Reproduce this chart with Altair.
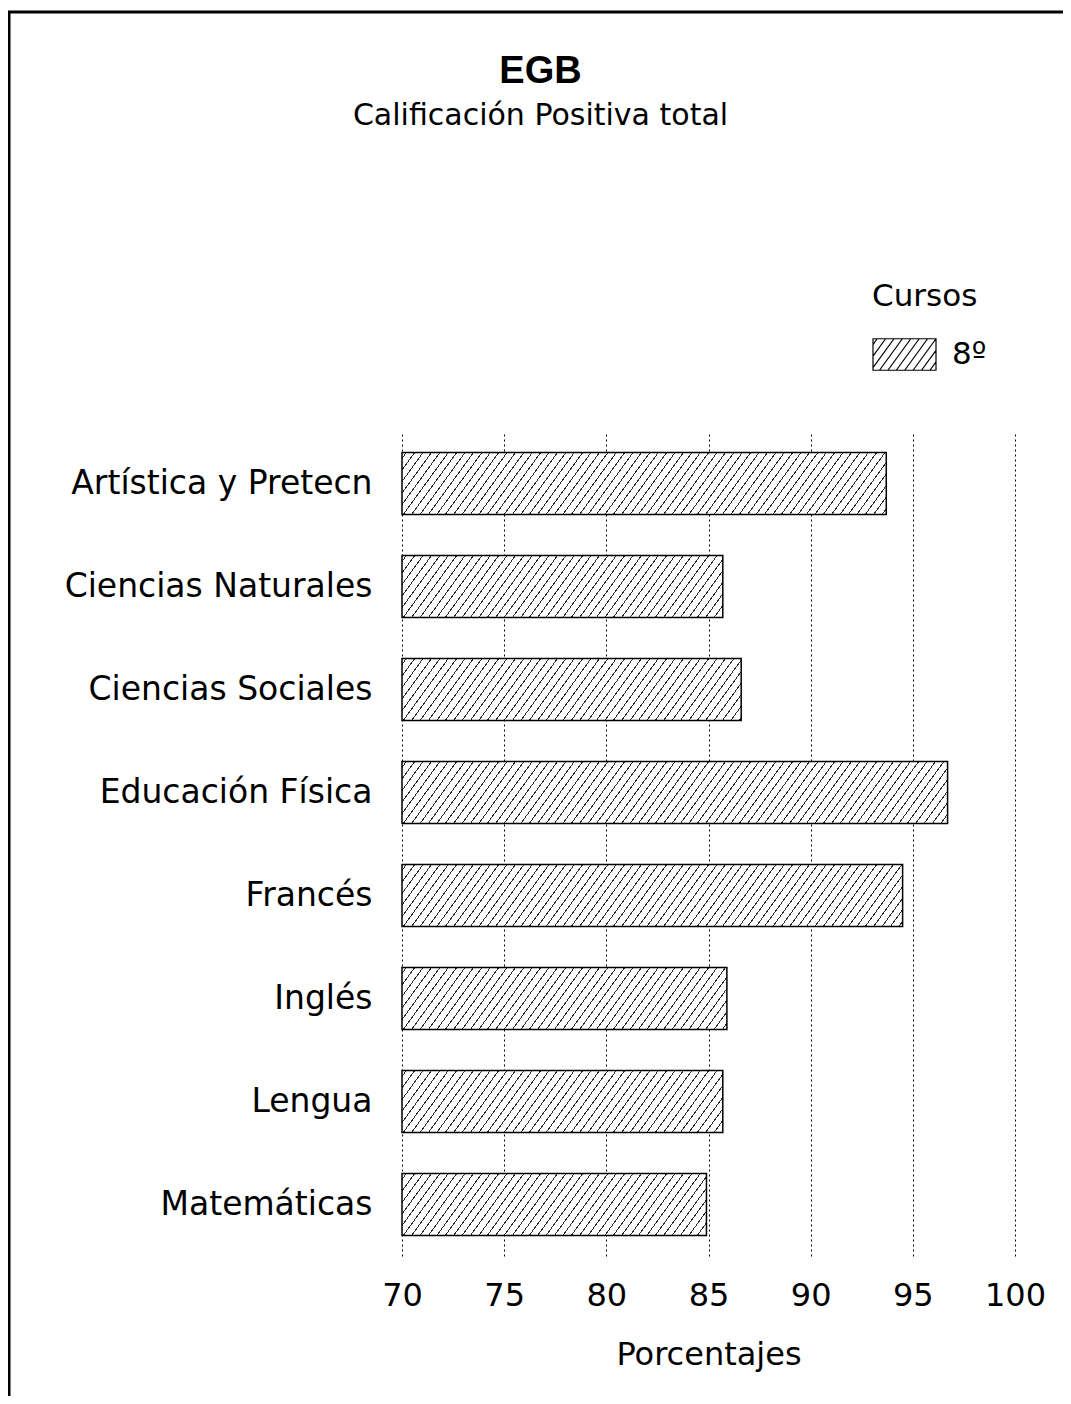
import math
import altair as alt
import pandas as pd

# ---- data ----
materias = [
    "Artística y Pretecn",
    "Ciencias Naturales",
    "Ciencias Sociales",
    "Educación Física",
    "Francés",
    "Inglés",
    "Lengua",
    "Matemáticas",
]
porcentajes = [93.7, 85.7, 86.6, 96.7, 94.5, 85.9, 85.7, 84.9]
curso = "8º"
x_ticks = [70, 75, 80, 85, 90, 95, 100]

df = pd.DataFrame({"Materia": materias, "Porcentaje": porcentajes,
                   "Curso": [curso] * len(materias)})

# ---- layout / style ----
PLOT_W, PLOT_H = 613, 824
X_MIN, X_MAX = 70, 100
PAD_INNER, PAD_OUTER = 0.4, 0.2
step = PLOT_H / (len(materias) - PAD_INNER + 2 * PAD_OUTER)
BAR_H = step * (1 - PAD_INNER)
THETA = math.radians(54)
H_SPACING = 8.4
LW = 0.95
HATCH = "#2a2a2a"
FONT = "DejaVu Sans"


def hatch_gradient(width, height):
    sn, cs = math.sin(THETA), math.cos(THETA)
    s = H_SPACING * sn
    M = width * sn + height * cs
    L2 = (width * sn) ** 2 + (height * cs) ** 2
    a = M / L2
    stops = [{"offset": 0, "color": "white"}]
    c = s / 2
    while c - LW / 2 < M:
        o1 = min(1.0, max(0.0, (c - LW / 2) / M))
        o2 = min(1.0, max(0.0, (c + LW / 2) / M))
        stops += [{"offset": o1, "color": "white"}, {"offset": o1, "color": HATCH},
                  {"offset": o2, "color": HATCH}, {"offset": o2, "color": "white"}]
        c += s
    stops.append({"offset": 1, "color": "white"})
    return {"gradient": "linear", "x1": 0, "y1": 0,
            "x2": a * width * sn, "y2": a * height * cs, "stops": stops}


def legend_path():
    # rectangle -1..1 x -0.5..0.5 with diagonal hatch lines (unit = sqrt(size)/2)
    unit = 31.5
    sp = H_SPACING / unit
    run = 1 / math.tan(THETA)
    parts = ["M-1,-0.5H1V0.5H-1Z"]
    c = -1 - run + sp / 2
    while c < 1:
        x0, y0 = c, 0.5
        x1, y1 = c + run, -0.5
        if x0 < -1:
            t = (-1 - c) / run
            x0, y0 = -1, 0.5 - t
        if x1 > 1:
            t = (1 - c) / run
            x1, y1 = 1, 0.5 - t
        parts.append(f"M{x0:.3f},{y0:.3f}L{x1:.3f},{y1:.3f}")
        c += sp
    return "".join(parts)


y_enc = alt.Y("Materia:N", sort=materias,
              scale=alt.Scale(paddingInner=PAD_INNER, paddingOuter=PAD_OUTER),
              axis=alt.Axis(title=None, domain=False, ticks=False, grid=False,
                            labelPadding=30, labelFontSize=33, labelFont=FONT,
                            labelColor="black", labelLimit=500))
x_enc = alt.X("Porcentaje:Q",
              scale=alt.Scale(domain=[X_MIN, X_MAX], zero=False, nice=False),
              axis=alt.Axis(values=x_ticks, title="Porcentajes", grid=True,
                            gridDash=[2, 3], gridColor="black", gridWidth=1,
                            gridOpacity=1, domain=False, ticks=False,
                            labelPadding=24, labelFontSize=32, labelFont=FONT,
                            labelColor="black", labelFlush=False,
                            titleFontSize=32, titleFont=FONT, titleColor="black",
                            titleFontWeight="normal", titlePadding=28))

layers = []
for m, v in zip(materias, porcentajes):
    w = (v - X_MIN) / (X_MAX - X_MIN) * PLOT_W
    layers.append(
        alt.Chart(df)
        .transform_filter(alt.datum.Materia == m)
        .mark_bar(fill=hatch_gradient(w, BAR_H), strokeWidth=0)
        .encode(y=y_enc, x=x_enc, x2=alt.datum(X_MIN))
    )

outline = alt.Chart(df).mark_bar(fill="white", fillOpacity=0, strokeWidth=1.5).encode(
    y=y_enc, x=x_enc, x2=alt.datum(X_MIN),
    stroke=alt.Stroke("Curso:N", scale=alt.Scale(domain=[curso], range=["black"]),
                      legend=alt.Legend(title="Cursos", orient="none",
                                        legendX=470, legendY=-150,
                                        symbolType=legend_path(), symbolSize=3969,
                                        symbolFillColor="white", symbolOpacity=1,
                                        symbolStrokeWidth=1.2, symbolStrokeColor="black",
                                        titleFontSize=31, titleFont=FONT,
                                        titleFontWeight="normal", titleColor="black",
                                        labelFontSize=31, labelFont=FONT,
                                        labelColor="black", labelOffset=15,
                                        titlePadding=9)),
)

frame_df = pd.DataFrame({"k": [0]})
frame_top = alt.Chart(frame_df).mark_rule(color="black", strokeWidth=3).encode(
    x=alt.value(-394), x2=alt.value(669), y=alt.value(-420))
frame_left = alt.Chart(frame_df).mark_rule(color="black", strokeWidth=3).encode(
    x=alt.value(-393), y=alt.value(-420), y2=alt.value(972))

chart = alt.layer(*layers, outline, frame_top, frame_left).properties(
    width=PLOT_W, height=PLOT_H,
    title=alt.TitleParams(text="EGB", subtitle="Calificación Positiva total",
                          anchor="middle", frame="group", dx=-168, offset=-120,
                          fontSize=38, fontWeight="bold", font="Liberation Sans",
                          color="black", subtitleFont=FONT, subtitleFontSize=30,
                          subtitleColor="black", subtitlePadding=10),
    padding={"left": 394, "top": 424, "right": 48, "bottom": 140},
    autosize=alt.AutoSizeParams(type="none"),
).configure(font=FONT).configure_view(stroke=None, strokeWidth=0)

chart.save("out.html", embed_options={"renderer": "svg", "actions": False})
